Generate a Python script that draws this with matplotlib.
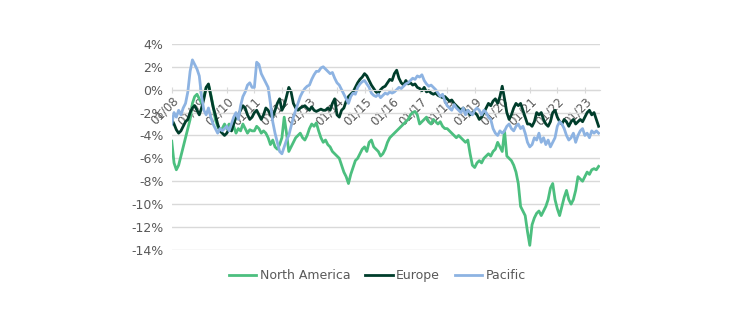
import numpy as np
import matplotlib
matplotlib.use("Agg")
import matplotlib.pyplot as plt

# monthly readings, Jan 2008 .. Jul 2023 (% relative performance)
north_america = [
    -4.5, -6.4, -7.0, -6.6, -5.8, -5.0, -4.2, -3.4, -2.6, -1.2, -0.6, -0.4,   # 2008
    -0.8, -1.2, -0.6, 0.2, 0.4, -0.4, -1.4, -2.6, -3.2, -3.6, -3.4, -3.0,     # 2009
    -3.4, -3.0, -3.6, -3.2, -3.8, -3.4, -3.6, -3.0, -3.4, -3.8, -3.5, -3.6,   # 2010
    -3.6, -3.2, -3.4, -3.8, -3.6, -3.8, -4.2, -4.8, -4.4, -5.0, -5.2, -4.8,   # 2011
    -4.2, -2.4, -3.8, -5.4, -5.0, -4.6, -4.2, -4.0, -3.8, -4.2, -4.4, -4.0,   # 2012
    -3.4, -3.0, -3.2, -2.9, -3.6, -4.2, -4.6, -4.4, -4.8, -5.0, -5.4, -5.6,   # 2013
    -5.8, -6.0, -6.6, -7.2, -7.6, -8.2, -7.4, -6.8, -6.2, -6.0, -5.6, -5.2,   # 2014
    -5.0, -5.4, -4.6, -4.4, -5.0, -5.2, -5.4, -5.8, -5.6, -5.2, -4.6, -4.2,   # 2015
    -4.0, -3.8, -3.6, -3.4, -3.2, -3.0, -2.8, -2.6, -2.2, -2.0, -1.9, -2.2,   # 2016
    -3.0, -2.8, -2.6, -2.4, -2.8, -3.0, -2.6, -2.8, -3.0, -2.8, -3.2, -3.4,   # 2017
    -3.4, -3.6, -3.8, -4.0, -4.2, -4.0, -4.2, -4.4, -4.6, -4.4, -5.6, -6.6,   # 2018
    -6.8, -6.4, -6.2, -6.4, -6.0, -5.8, -5.6, -5.8, -5.4, -5.2, -4.6, -5.0,   # 2019
    -5.4, -3.6, -5.8, -6.0, -6.2, -6.6, -7.2, -8.2, -10.2, -10.6, -11.0, -12.4,  # 2020
    -13.6, -11.8, -11.2, -10.8, -10.6, -11.0, -10.6, -10.2, -9.6, -8.6, -8.2, -9.6,  # 2021
    -10.4, -11.0, -10.2, -9.4, -8.8, -9.6, -10.0, -9.6, -8.8, -7.6, -7.8, -8.0,  # 2022
    -7.6, -7.2, -7.4, -7.0, -6.9, -7.0, -6.7,                                  # 2023
]
europe = [
    -2.6, -3.0, -3.5, -3.8, -3.6, -3.2, -2.8, -2.6, -2.0, -1.6, -1.4, -1.8,
    -2.2, -1.6, -0.8, 0.2, 0.5, -0.5, -1.5, -2.2, -3.0, -3.6, -3.8, -4.0,
    -3.8, -3.4, -3.6, -3.0, -2.4, -2.2, -1.8, -1.4, -1.6, -2.2, -2.6, -2.4,
    -2.0, -1.8, -2.2, -2.6, -2.2, -1.6, -1.8, -2.2, -2.4, -1.8, -1.2, -0.8,
    -1.8, -1.4, -0.6, 0.2, -0.2, -1.2, -1.6, -1.8, -1.6, -1.5, -1.4, -1.6,
    -1.8, -1.5, -1.8, -1.9, -1.8, -1.7, -1.8, -1.8, -1.6, -1.8, -1.2, -0.8,
    -2.2, -2.4, -1.8, -1.6, -1.0, -0.6, -0.4, -0.2, 0.2, 0.6, 0.9, 1.1,
    1.4, 1.2, 0.8, 0.4, 0.1, -0.2, -0.3, 0.0, 0.2, 0.3, 0.6, 0.9,
    0.8, 1.4, 1.7, 1.0, 0.6, 0.4, 0.8, 0.5, 0.6, 0.4, 0.5, 0.2,
    0.1, -0.1, 0.2, -0.2, -0.1, -0.3, -0.4, -0.3, -0.5, -0.6, -0.7, -0.6,
    -0.8, -1.0, -0.9, -1.2, -1.4, -1.6, -1.8, -1.6, -2.0, -1.8, -2.2, -2.0,
    -2.0, -2.2, -2.6, -2.4, -2.0, -1.6, -1.2, -1.4, -1.0, -0.8, -1.2, -0.6,
    0.3, -0.8, -2.0, -2.6, -2.2, -1.6, -1.2, -1.4, -1.2, -1.8, -2.4, -3.0,
    -3.0, -3.2, -2.8, -2.0, -2.2, -2.0, -2.6, -3.0, -3.2, -2.8, -2.0, -1.8,
    -2.4, -2.8, -3.0, -2.6, -2.8, -3.2, -2.8, -2.6, -3.0, -2.8, -2.6, -2.8,
    -2.4, -2.0, -1.8, -2.2, -2.0, -2.6, -3.2,
]
pacific = [
    -3.0, -2.0, -2.4, -1.8, -2.2, -1.6, -1.2, -0.2, 1.6, 2.6, 2.2, 1.8,
    1.2, -0.6, -1.8, -2.2, -1.6, -2.4, -3.0, -3.4, -3.8, -3.4, -3.6, -3.4,
    -3.2, -3.6, -3.0, -2.4, -2.0, -2.6, -1.4, -0.6, -0.2, 0.4, 0.6, 0.2,
    0.2, 2.4, 2.2, 1.4, 1.0, 0.6, 0.2, -1.2, -2.8, -3.8, -4.6, -5.4,
    -5.6, -5.0, -4.4, -4.0, -3.2, -2.4, -1.8, -1.2, -0.6, -0.2, 0.1, 0.3,
    0.4, 0.9, 1.3, 1.6, 1.6, 1.9, 2.0, 1.8, 1.6, 1.4, 1.5, 1.0,
    0.6, 0.4, 0.0, -0.4, -0.8, -1.2, -0.6, -0.3, -0.4, 0.2, 0.5, 0.7,
    0.8, 0.5, 0.2, -0.3, -0.5, -0.6, -0.4, -0.7, -0.5, -0.3, -0.4, -0.2,
    -0.3, -0.2, 0.0, 0.2, 0.1, 0.3, 0.5, 0.6, 0.8, 1.0, 0.9, 1.2,
    1.1, 1.3, 0.8, 0.5, 0.3, 0.4, 0.2, 0.0, -0.3, -0.6, -0.4, -1.0,
    -1.4, -1.6, -1.8, -1.3, -1.6, -1.8, -2.0, -1.6, -2.2, -1.8, -2.0, -2.2,
    -1.8, -1.6, -1.8, -2.2, -1.8, -2.0, -2.4, -2.6, -3.4, -3.8, -4.0, -3.6,
    -3.8, -3.6, -3.2, -3.0, -3.4, -3.6, -3.2, -3.0, -3.4, -3.2, -3.8, -4.6,
    -5.0, -4.8, -4.2, -4.4, -3.8, -4.6, -4.2, -4.8, -4.4, -5.0, -4.6, -4.2,
    -3.2, -2.8, -3.0, -3.4, -4.0, -4.4, -4.2, -3.8, -4.6, -4.0, -3.6, -3.4,
    -4.0, -3.8, -4.2, -3.6, -3.8, -3.6, -3.8,
]
series_names = ["North America", "Europe", "Pacific"]
colors = ["#4cbf7f", "#003d2b", "#8db3e2"]
tick_years = list(range(2008, 2024))
tick_labels = [f"01/{y % 100:02d}" for y in tick_years]
y_ticks = list(range(-14, 5, 2))

t = 2008 + np.arange(len(north_america)) / 12.0

fig = plt.figure(figsize=(7.5, 3.25), dpi=100)
ax = fig.add_axes([0.229, 0.231, 0.571, 0.634])

for name, vals, c in zip(series_names, [north_america, europe, pacific], colors):
    ax.plot(t, vals, color=c, lw=2, label=name)

ax.set_ylim(-14, 4)
ax.set_xlim(2008, 2023.55)
ax.set_yticks(y_ticks)
ax.set_yticklabels([f"{v}%" for v in y_ticks])
ax.yaxis.grid(True, color="#d9d9d9", lw=1)
ax.set_axisbelow(True)
for s in ["top", "right", "left"]:
    ax.spines[s].set_visible(False)
ax.spines["bottom"].set_position(("data", 0))
ax.spines["bottom"].set_color("#d9d9d9")
ax.tick_params(axis="y", length=0, labelsize=9, labelcolor="#595959", pad=6)
ax.tick_params(axis="x", direction="inout", length=5, color="#d9d9d9",
               labelsize=8.5, labelcolor="#595959", pad=1)
ax.set_xticks(tick_years)
ax.set_xticklabels(tick_labels, rotation=45, ha="right", va="top",
                   rotation_mode="anchor")

leg = ax.legend(loc="upper center", bbox_to_anchor=(0.48, -0.04), ncol=3,
                frameon=False, fontsize=9, handlelength=2.2, columnspacing=1.2,
                handletextpad=0.25)
for txt in leg.get_texts():
    txt.set_color("#595959")

fig.savefig("out.png", dpi=100)
